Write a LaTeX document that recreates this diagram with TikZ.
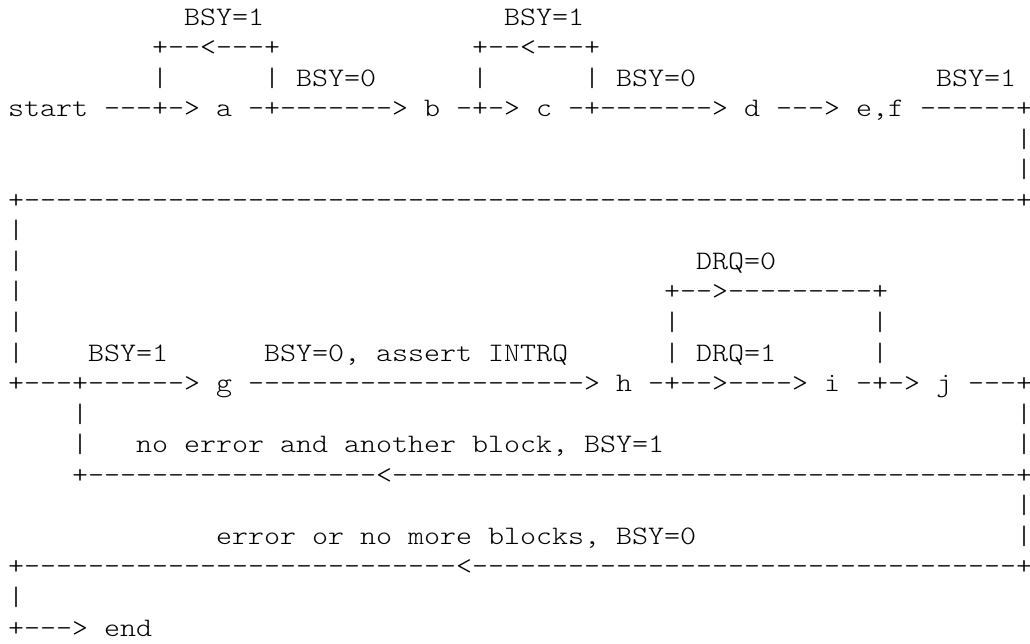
\documentclass[tikz,border=0pt]{standalone}
\usepackage{graphicx}
\ExplSyntaxOn
\cs_new:Npn \rpt #1#2 { \prg_replicate:nn {#1} {#2} }
\ExplSyntaxOff
\newcommand\asc[1]{\scalebox{1.142857}[1]{\fontsize{20pt}{20pt}\fontseries{l}\ttfamily\selectfont #1}}
\tikzset{txt/.style={anchor=base west, inner sep=0pt, outer sep=0pt, text=black}}
\newcommand\seg[4]{\node[txt] (#1) at ({6pt+#3*12pt},{-18.75pt-(#2-1)*22.9125pt}) {\asc{#4}};}
\begin{document}
\begin{tikzpicture}
\fill[white] (0,0) rectangle (772.5pt,-482.25pt);
\useasboundingbox (0,0) rectangle (772.5pt,-482.25pt);
% row 1
\seg{r1a}{1}{11}{BSY=1}
\seg{r1b}{1}{31}{BSY=1}
% row 2
\seg{r2a}{2}{9}{+--<---+}
\seg{r2b}{2}{29}{+--<---+}
% row 3
\seg{r3a}{3}{9}{|}
\seg{r3b}{3}{16}{| BSY=0}
\seg{r3c}{3}{29}{|}
\seg{r3d}{3}{36}{| BSY=0}
\seg{r3e}{3}{58}{BSY=1}
% row 4
\seg{r4}{4}{0}{start ---+-> a -+-------> b -+-> c -+-------> d ---> e,f ------+}
% rows 5-6
\seg{r5}{5}{63}{|}
\seg{r6}{6}{63}{|}
% row 7
\seg{r7}{7}{0}{+\rpt{62}{-}+}
% rows 8-12 left bar
\seg{r8}{8}{0}{|}
\seg{r9a}{9}{0}{|}
\seg{r9b}{9}{43}{DRQ=0}
\seg{r10a}{10}{0}{|}
\seg{r10b}{10}{41}{+-->---------+}
\seg{r11a}{11}{0}{|}
\seg{r11b}{11}{41}{|}
\seg{r11c}{11}{54}{|}
\seg{r12a}{12}{0}{|}
\seg{r12b}{12}{5}{BSY=1}
\seg{r12c}{12}{16}{BSY=0, assert INTRQ}
\seg{r12d}{12}{41}{| DRQ=1}
\seg{r12e}{12}{54}{|}
% row 13
\seg{r13}{13}{0}{+---+------> g \rpt{21}{-}> h -+-->----> i -+-> j ---+}
% rows 14-16
\seg{r14a}{14}{4}{|}
\seg{r14b}{14}{63}{|}
\seg{r15a}{15}{4}{|}
\seg{r15b}{15}{8}{no error and another block, BSY=1}
\seg{r15c}{15}{63}{|}
\seg{r16}{16}{4}{+\rpt{18}{-}<\rpt{39}{-}+}
% rows 17-19
\seg{r17}{17}{63}{|}
\seg{r18a}{18}{13}{error or no more blocks, BSY=0}
\seg{r18b}{18}{63}{|}
\seg{r19}{19}{0}{+\rpt{27}{-}<\rpt{34}{-}+}
% rows 20-21
\seg{r20}{20}{0}{|}
\seg{r21}{21}{0}{+---> end}
\end{tikzpicture}
\end{document}
